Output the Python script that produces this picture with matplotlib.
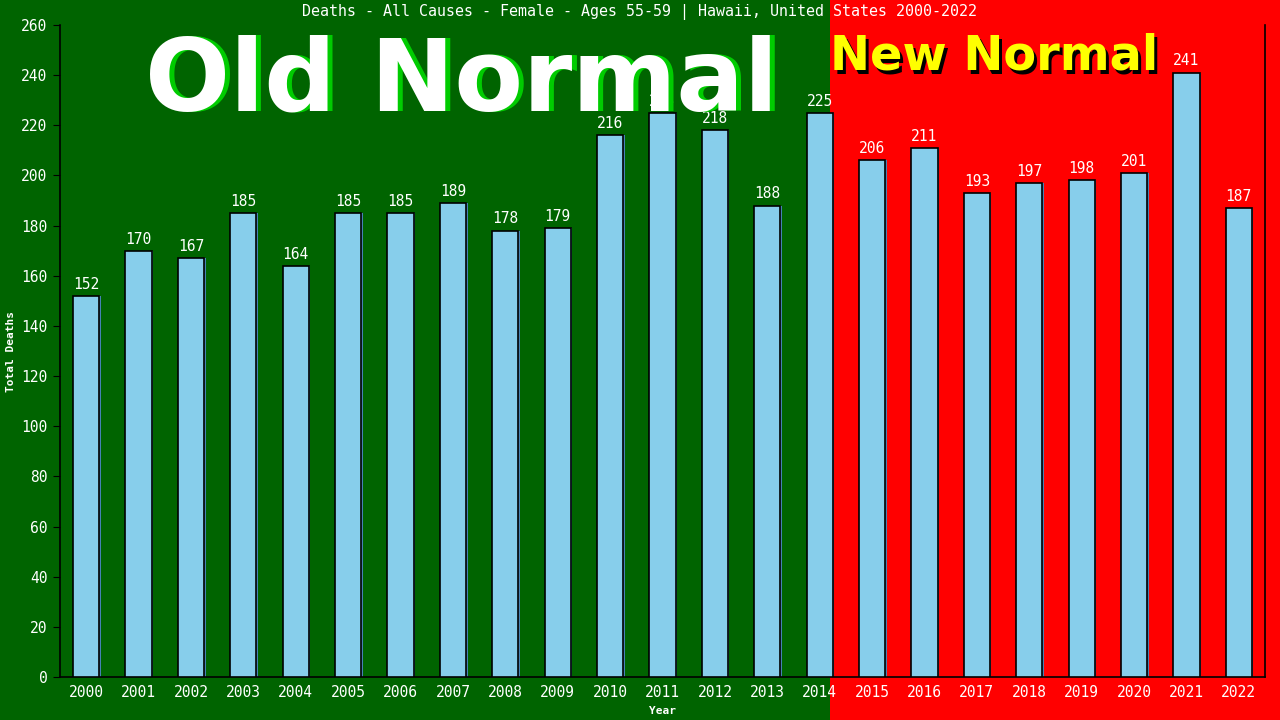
import numpy as np
import matplotlib
matplotlib.use("Agg")
import matplotlib.pyplot as plt
from matplotlib.patches import Rectangle
from matplotlib.transforms import offset_copy

# -----------------------------------------------------------
# Data
# -----------------------------------------------------------
years = [str(y) for y in range(2000, 2023)]
deaths = [152, 170, 167, 185, 164, 185, 185, 189, 178, 179, 216, 225,
          218, 188, 225, 206, 211, 193, 197, 198, 201, 241, 187]
yticks = list(range(0, 261, 20))

title = "Deaths - All Causes - Female - Ages 55-59 | Hawaii, United States 2000-2022"

GREEN = "#006400"
RED = "#ff0000"
BAR = "#87ceeb"
MONO = "DejaVu Sans Mono"

fig = plt.figure(figsize=(12.8, 7.2), dpi=100, facecolor=GREEN)

# red "new normal" background from 2015 on
fig.patches.append(Rectangle((830 / 1280, 0), 1 - 830 / 1280, 1,
                             transform=fig.transFigure, facecolor=RED,
                             edgecolor="none", zorder=-1))

ax = fig.add_axes([60 / 1280, 43 / 720, 1205 / 1280, 652 / 720])
ax.set_facecolor("none")

x = np.arange(len(years))

# thin blue shadow on the right edge, then the bars
shadow = offset_copy(ax.transData, fig=fig, x=1.5, y=0, units="dots")
ax.bar(x, deaths, width=0.5, color="#4682b4", edgecolor="none",
       transform=shadow, zorder=2)
ax.bar(x, deaths, width=0.5, color=BAR, edgecolor="black", linewidth=1.2, zorder=3)

for xi, v in zip(x, deaths):
    ax.annotate(str(v), (xi, v), xytext=(0, 3), textcoords="offset points",
                ha="center", va="bottom", color="white", fontsize=10.5,
                family=MONO, zorder=4)

ax.set_xlim(-0.5, len(years) - 0.5)
ax.set_ylim(0, 260)
ax.set_xticks(x)
ax.set_xticklabels(years, family=MONO, fontsize=10.5, color="white")
ax.set_yticks(yticks)
ax.set_yticklabels([str(t) for t in yticks], family=MONO, fontsize=10.5, color="white")
ax.tick_params(axis="x", length=0, pad=6)
ax.tick_params(axis="y", length=5, color="black", pad=4)

ax.spines["top"].set_visible(False)
for s in ["left", "right", "bottom"]:
    ax.spines[s].set_color("black")
    ax.spines[s].set_linewidth(1.2)

ax.set_ylabel("Total Deaths", family=MONO, fontsize=8, fontweight="bold",
              color="white", labelpad=4)
ax.set_xlabel("Year", family=MONO, fontsize=8, fontweight="bold",
              color="white", labelpad=4)

fig.text(0.5, 1 - 12 / 720, title, ha="center", va="center", color="white",
         fontsize=10.8, family=MONO)

# big overlay labels with drop shadows
def shadow_text(px, py, s, color, shade, size, dx, dy, ha):
    fx, fy = px / 1280, 1 - py / 720
    t = offset_copy(fig.transFigure, fig=fig, x=dx, y=-dy, units="dots")
    fig.text(fx, fy, s, transform=t, ha=ha, va="baseline", color=shade,
             fontsize=size, fontweight="bold", family="DejaVu Sans", zorder=5)
    fig.text(fx, fy, s, ha=ha, va="baseline", color=color,
             fontsize=size, fontweight="bold", family="DejaVu Sans", zorder=6)

shadow_text(462, 110, "Old Normal", "white", "#00cc00", 72, 5, 0, "center")
shadow_text(830, 70, "New Normal", "#ffff00", "black", 34.5, 3, 3, "left")

fig.savefig("out.png", dpi=100, facecolor=fig.get_facecolor())
